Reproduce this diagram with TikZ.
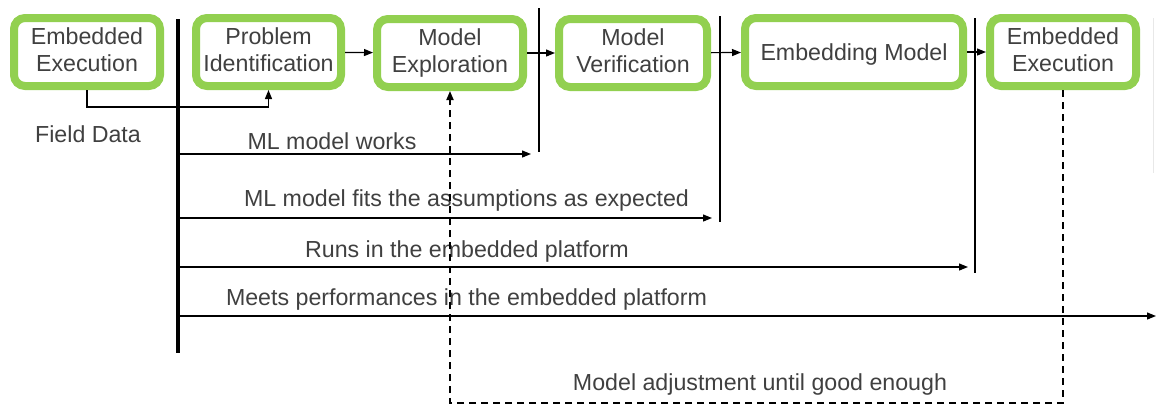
\documentclass[tikz,border=0pt]{standalone}
\usepackage{fontspec}
\setmainfont{Liberation Sans}
\usetikzlibrary{arrows.meta}
\definecolor{boxgreen}{RGB}{146,208,80}
\definecolor{txt}{RGB}{64,64,64}

\begin{document}
\begin{tikzpicture}[x=1pt,y=-1pt,
  stage/.style={draw=boxgreen, line width=8pt, rounded corners=11pt, fill=white,
    minimum height=68pt, inner sep=0pt, align=center, text=txt,
    font=\fontsize{23.2}{27.5}\selectfont,
    execute at begin node={\rule{0pt}{21pt}},
    execute at end node={\rule[-5pt]{0pt}{5pt}}},
  link/.style={line width=1.2pt, -{Triangle[length=9pt,width=7pt]}},
  loop/.style={line width=1.8pt, dash pattern=on 7pt off 5pt, -{Triangle[length=9pt,width=7pt]}},
  lbl/.style={text=txt, font=\fontsize{23.2}{27.5}\selectfont, anchor=base, inner sep=0pt},
  gate/.style={line width=1.2pt},
]
\useasboundingbox (0,0) rectangle (1156,405);

% process stages
\node[stage, minimum width=146pt] (exec0)  at (87,52)    {Embedded\\Execution};
\node[stage, minimum width=145pt] (ident)  at (268.5,52) {Problem\\Identification};
\node[stage, minimum width=146pt] (explor) at (450,53)   {Model\\Exploration};
\node[stage, minimum width=148pt] (verif)  at (633,53)   {Model\\Verification};
\node[stage, minimum width=218pt] (embed)  at (854,52)   {Embedding Model};
\node[stage, minimum width=146pt] (exec1)  at (1063,52)  {Embedded\\Execution};

% stage-to-stage flow
\draw[link] (ident) -- (explor);
\draw[link] (explor) -- (verif);
\draw[link] (verif) -- (embed);
\draw[link] (embed) -- (exec1);

% field data feedback
\draw[link] (exec0.south) -- ++(0,17) -| (ident.south);
\node[lbl] (field) at (88,142) {Field Data};

% time line and gates
\draw[line width=3.6pt] (178,19) -- (178,353);
\draw[gate] (539,8) -- (539,152);
\draw[gate] (720,16) -- (720,222);
\draw[gate] (975,18) -- (975,273);
\draw[gray!18, line width=1pt] (1153,18) -- (1153,173);

% criteria arrows
\coordinate (s1) at (180,154);  \coordinate (e1) at (531,154);
\coordinate (s2) at (180,218);  \coordinate (e2) at (712,218);
\coordinate (s3) at (180,267);  \coordinate (e3) at (968,267);
\coordinate (s4) at (180,316);  \coordinate (e4) at (1156,316);
\draw[link] (s1) -- (e1);
\draw[link] (s2) -- (e2);
\draw[link] (s3) -- (e3);
\draw[link] (s4) -- (e4);
\node[lbl] (c1) at (332,149)   {ML model works};
\node[lbl] (c2) at (466.5,206) {ML model fits the assumptions as expected};
\node[lbl] (c3) at (467,257)   {Runs in the embedded platform};
\node[lbl] (c4) at (466.5,305) {Meets performances in the embedded platform};

% adjustment loop
\coordinate (lp) at (explor.south |- 0,403);
\draw[loop] (exec1.south) |- (lp) -- (explor.south);
\node[lbl] (adj) at (760,390) {Model adjustment until good enough};
\end{tikzpicture}
\end{document}
